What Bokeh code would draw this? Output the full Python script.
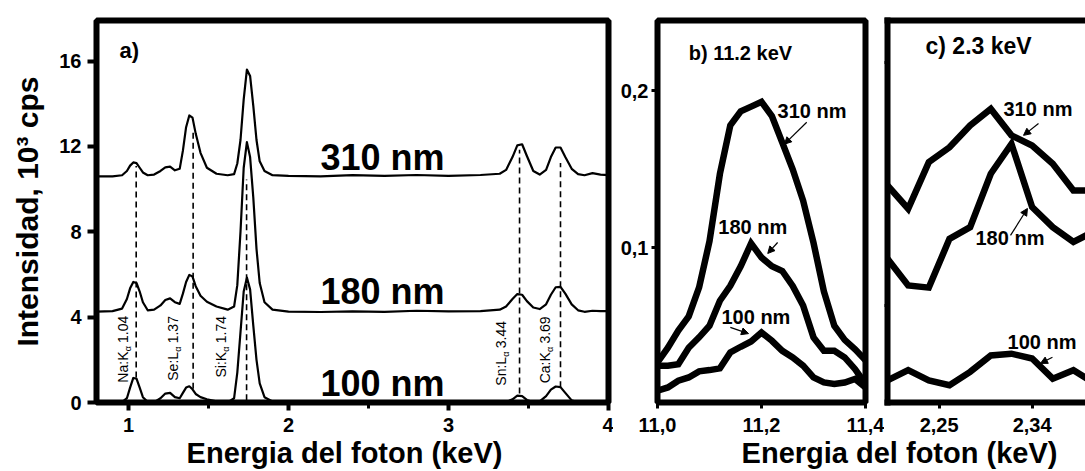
import math
from bokeh.plotting import figure
from bokeh.layouts import row, column
from bokeh.models import FixedTicker, CustomJSTickFormatter, LinearAxis, Arrow, NormalHead
from bokeh.core.properties import value
from bokeh.embed import file_html
from bokeh.resources import INLINE

FONT = "Liberation Sans"

# ---------------- Panel a data ----------------
energy_a = [0.80, 0.90, 0.96, 0.99, 1.01, 1.03, 1.05, 1.07, 1.09, 1.12,
            1.16, 1.20, 1.23, 1.26, 1.29, 1.32, 1.34, 1.36, 1.38, 1.40,
            1.42, 1.45, 1.49, 1.55, 1.62, 1.66, 1.68, 1.70, 1.72, 1.74,
            1.76, 1.78, 1.80, 1.82, 1.85, 1.90, 2.00, 2.20, 2.40, 2.60,
            2.80, 3.00, 3.20, 3.32, 3.36, 3.40, 3.43, 3.46, 3.49, 3.53,
            3.57, 3.61, 3.64, 3.67, 3.70, 3.73, 3.77, 3.81, 3.85, 3.90,
            3.95, 4.00]
cps_310 = [10.60, 10.60, 10.65, 10.85, 11.10, 11.25, 11.22, 11.00, 10.78, 10.65,
           10.68, 10.85, 11.02, 11.05, 10.88, 10.95, 11.80, 12.90, 13.45, 13.35,
           12.60, 11.70, 11.00, 10.72, 10.65, 10.70, 11.20, 12.30, 14.20, 15.60,
           15.30, 13.90, 12.30, 11.30, 10.85, 10.65, 10.62, 10.60, 10.65, 10.62,
           10.66, 10.62, 10.66, 10.72, 10.90, 11.50, 12.05, 12.10, 11.55, 10.85,
           10.68, 10.90, 11.50, 11.95, 11.95, 11.50, 10.95, 10.70, 10.65, 10.75,
           10.68, 10.65]
cps_180 = [4.26, 4.28, 4.40, 4.85, 5.35, 5.65, 5.60, 5.20, 4.70, 4.32,
           4.35, 4.55, 4.80, 4.88, 4.70, 4.62, 5.10, 5.65, 5.98, 5.90,
           5.45, 5.00, 4.72, 4.50, 4.35, 4.50, 5.50, 8.00, 11.00, 12.20,
           11.50, 9.60, 7.20, 5.60, 4.70, 4.35, 4.26, 4.24, 4.27, 4.25,
           4.30, 4.27, 4.28, 4.35, 4.50, 4.85, 5.08, 5.05, 4.75, 4.45,
           4.38, 4.60, 5.05, 5.40, 5.42, 5.10, 4.60, 4.32, 4.25, 4.30,
           4.28, 4.28]
cps_100 = [0.00, 0.00, 0.02, 0.20, 0.70, 1.15, 1.12, 0.70, 0.25, 0.03,
           0.02, 0.20, 0.42, 0.45, 0.25, 0.20, 0.45, 0.70, 0.76, 0.62,
           0.40, 0.25, 0.15, 0.05, 0.00, 0.20, 1.40, 3.30, 5.20, 5.85,
           5.30, 3.60, 2.00, 0.90, 0.25, 0.05, 0.00, 0.00, 0.00, 0.00,
           0.00, 0.00, 0.00, 0.00, 0.02, 0.15, 0.32, 0.30, 0.12, 0.02,
           0.05, 0.30, 0.60, 0.75, 0.72, 0.45, 0.10, 0.00, 0.00, 0.00,
           0.00, 0.00]

line_energy = [1.048, 1.404, 1.738, 3.444, 3.700]
line_low = [1.17, 0.65, 0.10, 0.42, 0.71]
line_high = [11.08, 12.70, 10.45, 11.84, 11.22]

elem_main = ["Na:K", "Se:L", "Si:K", "Sn:L", "Ca:K"]
elem_sub = ["α", "α", "α", "α", "α"]
elem_kev = ["1.04", "1.37", "1.74", "3.44", "3.69"]

thickness_labels = ["310 nm", "180 nm", "100 nm"]

# ---------------- Panel b data (11.2 keV) ----------------
energy_b = [11.00, 11.02, 11.04, 11.06, 11.08, 11.10, 11.12, 11.14, 11.16, 11.18,
            11.20, 11.22, 11.24, 11.26, 11.28, 11.30, 11.32, 11.34, 11.36, 11.38, 11.40]
b_310 = [0.0266, 0.0360, 0.0470, 0.0560, 0.0745, 0.1040, 0.1470, 0.1780, 0.1870, 0.1900,
         0.1930, 0.1840, 0.1670, 0.1500, 0.1300, 0.1030, 0.0720, 0.0500, 0.0410, 0.0350, 0.0280]
b_180 = [0.0245, 0.0245, 0.0255, 0.0360, 0.0426, 0.0500, 0.0660, 0.0755, 0.0880, 0.1026,
         0.0936, 0.0880, 0.0850, 0.0755, 0.0630, 0.0426, 0.0340, 0.0340, 0.0298, 0.0223, 0.0128]
b_100 = [0.0085, 0.0106, 0.0149, 0.0170, 0.0209, 0.0217, 0.0228, 0.0330, 0.0366, 0.0400,
         0.0457, 0.0404, 0.0340, 0.0298, 0.0245, 0.0170, 0.0138, 0.0128, 0.0138, 0.0160, 0.0106]

# ---------------- Panel c data (2.3 keV) ----------------
energy_c = [2.20, 2.22, 2.24, 2.26, 2.28, 2.30, 2.32, 2.34, 2.36, 2.38, 2.40]
c_310 = [0.1494, 0.1398, 0.1590, 0.1651, 0.1741, 0.1809, 0.1700, 0.1658, 0.1583, 0.1473, 0.1473]
c_180 = [0.1192, 0.1082, 0.1073, 0.1274, 0.1322, 0.1542, 0.1665, 0.1405, 0.1322, 0.1261, 0.1305]
c_100 = [0.0691, 0.0733, 0.0691, 0.0671, 0.0726, 0.0794, 0.0801, 0.0781, 0.0698, 0.0733, 0.0680]

# ---------------- helpers ----------------
CHAR_W = {"N": .722, "a": .556, ":": .278, "K": .667, "S": .667, "e": .556,
          "L": .556, "i": .222, "n": .556, "C": .722}


def text_width(s, size):
    return sum(CHAR_W.get(ch, .556) for ch in s) * size


def style_axis(ax, size="20px"):
    ax.axis_line_color = None
    ax.major_tick_line_width = 4
    ax.major_tick_line_color = "black"
    ax.major_tick_in = 0
    ax.major_tick_out = 8
    ax.minor_tick_line_color = None
    ax.major_label_text_font = FONT
    ax.major_label_text_font_style = "bold"
    ax.major_label_text_font_size = size
    ax.major_label_text_color = "black"


def base_fig(**kw):
    p = figure(output_backend="svg", toolbar_location=None, **kw)
    p.grid.visible = False
    p.background_fill_color = "white"
    p.border_fill_color = "white"
    return p


ROW_H = 446
BOTTOM = 44

# ================= Panel a =================
pa = base_fig(width=613, height=ROW_H, x_range=(0.8, 4.0), y_range=(0, 17.9),
              min_border_left=96, min_border_right=5, min_border_top=16, min_border_bottom=BOTTOM)
pa.outline_line_color = "black"
pa.outline_line_width = 6
pa.outline_line_alpha = 1.0
style_axis(pa.xaxis[0])
style_axis(pa.yaxis[0])
pa.xaxis.ticker = FixedTicker(ticks=[1, 2, 3, 4], minor_ticks=[1.5, 2.5, 3.5])
pa.xaxis.minor_tick_line_color = "black"
pa.xaxis.minor_tick_line_width = 3
pa.xaxis.minor_tick_in = 0
pa.xaxis.minor_tick_out = 6
pa.xaxis.major_label_standoff = 7
pa.yaxis.ticker = FixedTicker(ticks=[0, 4, 8, 12, 16])
pa.yaxis.major_tick_out = 9
pa.yaxis.major_label_standoff = 6
pa.yaxis.axis_label = "Intensidad, 10³ cps"
pa.yaxis.axis_label_text_font = FONT
pa.yaxis.axis_label_text_font_style = "bold"
pa.yaxis.axis_label_text_font_size = "30px"
pa.yaxis.axis_label_text_color = "black"
pa.yaxis.axis_label_standoff = 12

pa.segment(x0=line_energy, y0=line_low, x1=line_energy, y1=line_high,
           line_color="black", line_width=1.6, line_dash="6 4")
for series in (cps_310, cps_180, cps_100):
    pa.line(energy_a, series, line_color="black", line_width=2.2, line_join="round")

# element labels (rotated, with subscript alpha)
px_per_unit_a = 386 / 17.9
elem_x = [0.9625, 1.281, 1.575, 3.331, 3.600]
elem_y = [0.93, 1.02, 1.17, 0.79, 0.90]
MAIN_SIZE = 14
for xm, ym, m, s, k in zip(elem_x, elem_y, elem_main, elem_sub, elem_kev):
    wm = text_width(m, MAIN_SIZE)
    pa.text(x=[xm], y=[ym], text=[m], angle=math.pi / 2, text_align="left",
            text_baseline="middle", text_font=value(FONT), text_font_size=f"{MAIN_SIZE}px",
            text_color="black")
    pa.text(x=[xm], y=[ym + (wm + 0.5) / px_per_unit_a], text=[s], angle=math.pi / 2,
            text_align="left", text_baseline="middle", x_offset=5,
            text_font=value(FONT), text_font_size="9px", text_color="black")
    pa.text(x=[xm], y=[ym + (wm + 9) / px_per_unit_a], text=[k], angle=math.pi / 2,
            text_align="left", text_baseline="middle", text_font=value(FONT),
            text_font_size=f"{MAIN_SIZE}px", text_color="black")

pa.text(x=[2.2, 2.2, 2.2], y=[11.46, 5.19, 0.88], text=thickness_labels,
        text_align="left", text_baseline="middle", text_font=value(FONT),
        text_font_style="bold", text_font_size="36px", text_color="black")
pa.text(x=[0.944], y=[16.51], text=["a)"], text_align="left", text_baseline="middle",
        text_font=value(FONT), text_font_style="bold", text_font_size="22px", text_color="black")

# ================= Panel b =================
pb = base_fig(width=271, height=ROW_H, x_range=(11.0, 11.4), y_range=(0.001, 0.245),
              min_border_left=44, min_border_right=19, min_border_top=19, min_border_bottom=BOTTOM)
pb.outline_line_color = "black"
pb.outline_line_width = 6
pb.outline_line_alpha = 1.0
style_axis(pb.xaxis[0])
style_axis(pb.yaxis[0])
pb.xaxis.ticker = FixedTicker(ticks=[11.0, 11.2, 11.4])
pb.xaxis.formatter = CustomJSTickFormatter(code="return tick.toFixed(1).replace('.', ',');")
pb.xaxis.major_tick_out = 6
pb.xaxis.major_tick_line_width = 3
pb.xaxis.major_label_standoff = 9
pb.yaxis.ticker = FixedTicker(ticks=[0.1, 0.2])
pb.yaxis.formatter = CustomJSTickFormatter(code="return tick.toFixed(1).replace('.', ',');")
pb.yaxis.major_tick_out = 6
pb.yaxis.major_tick_line_width = 3
pb.yaxis.major_label_standoff = 3

for series in (b_310, b_180, b_100):
    pb.line(energy_b, series, line_color="black", line_width=6.5, line_join="miter")

pb.text(x=[11.06], y=[0.2242], text=["b) 11.2 keV"], text_align="left", text_baseline="middle",
        text_font=value(FONT), text_font_style="bold", text_font_size="20px", text_color="black")
pb.text(x=[11.231, 11.117, 11.123], y=[0.1873, 0.1128, 0.0554], text=thickness_labels,
        text_align="left", text_baseline="middle", text_font=value(FONT),
        text_font_style="bold", text_font_size="20px", text_color="black")
arrows_b = [((11.287, 0.180), (11.244, 0.166)),
            ((11.231, 0.1032), (11.212, 0.0962)),
            ((11.140, 0.049), (11.175, 0.045))]
for (xs, ys), (xe, ye) in arrows_b:
    pb.add_layout(Arrow(end=NormalHead(size=7, fill_color="black", line_color="black"),
                        x_start=xs, y_start=ys, x_end=xe, y_end=ye,
                        line_color="black", line_width=1.2))

# ================= Panel c =================
pc = base_fig(width=201, height=ROW_H, x_range=(2.2, 2.3917), y_range=(0.060, 0.2173),
              min_border_left=3, min_border_right=0, min_border_top=20, min_border_bottom=BOTTOM)
pc.outline_line_color = None
style_axis(pc.xaxis[0])
style_axis(pc.yaxis[0])
for ax in (pc.xaxis[0], pc.yaxis[0]):
    ax.axis_line_color = "black"
    ax.axis_line_width = 6
    ax.axis_line_cap = "square"
pc.xaxis.ticker = FixedTicker(ticks=[2.25, 2.34])
pc.xaxis.formatter = CustomJSTickFormatter(code="return tick.toFixed(2).replace('.', ',');")
pc.xaxis.major_tick_out = 6
pc.xaxis.major_tick_line_width = 3
pc.xaxis.major_label_standoff = 9
pc.yaxis.ticker = FixedTicker(ticks=[0.1, 0.2])
pc.yaxis.formatter = CustomJSTickFormatter(code="return '';")
pc.yaxis.major_tick_out = 3
pc.yaxis.major_tick_line_width = 3
pc.yaxis.major_label_standoff = 0
top_c = LinearAxis(ticker=FixedTicker(ticks=[]), axis_line_color="black", axis_line_width=6,
                   axis_line_cap="square", major_tick_out=0, major_tick_in=0,
                   major_label_standoff=0, minor_tick_line_color=None)
pc.add_layout(top_c, "above")

for series in (c_310, c_180, c_100):
    pc.line(energy_c, series, line_color="black", line_width=6.5, line_join="miter")

pc.text(x=[2.2368], y=[0.2070], text=["c) 2.3 keV"], text_align="left", text_baseline="middle",
        text_font=value(FONT), text_font_style="bold", text_font_size="23px", text_color="black")
pc.text(x=[2.3123, 2.2852, 2.3162], y=[0.1807, 0.1276, 0.0848], text=thickness_labels,
        text_align="left", text_baseline="middle", text_font=value(FONT),
        text_font_style="bold", text_font_size="20px", text_color="black")
arrows_c = [((2.3462, 0.1749), (2.3317, 0.1700)),
            ((2.3191, 0.1288), (2.3355, 0.1399)),
            ((2.3597, 0.0786), (2.3481, 0.0761))]
for (xs, ys), (xe, ye) in arrows_c:
    pc.add_layout(Arrow(end=NormalHead(size=7, fill_color="black", line_color="black"),
                        x_start=xs, y_start=ys, x_end=xe, y_end=ye,
                        line_color="black", line_width=1.2))

# ================= bottom axis titles =================
LBL_H = 33
pl = figure(width=1085, height=LBL_H, x_range=(0, 1085), y_range=(0, LBL_H),
            x_axis_type=None, y_axis_type=None, output_backend="svg", toolbar_location=None,
            min_border=0, outline_line_color=None)
pl.grid.visible = False
pl.background_fill_alpha = 0
pl.border_fill_alpha = 0
pl.margin = (-8, 0, 0, 0)
pl.text(x=[344, 899], y=[19, 19], text=["Energia del foton (keV)", "Energia del foton (keV)"],
        text_align="center", text_baseline="middle", text_font=value(FONT),
        text_font_style="bold", text_font_size="29px", text_color="black")

layout = column(row(pa, pb, pc), pl)
open("out.html", "w").write(file_html(layout, INLINE))
